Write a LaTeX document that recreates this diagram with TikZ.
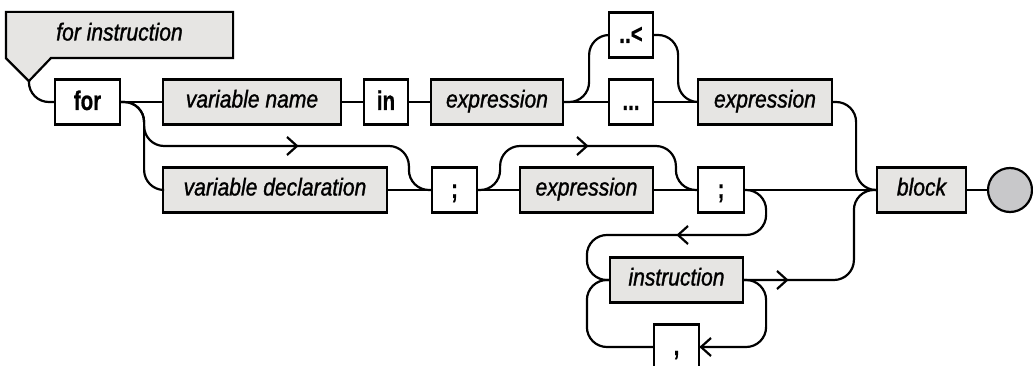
\documentclass[tikz,border=0pt]{standalone}
\usepackage{fontspec}
\setmainfont{Liberation Sans}
\newfontfamily\ntfont[FakeStretch=0.86, FakeBold=1.2]{Liberation Sans}
\newfontfamily\kwfont[FakeStretch=0.76, FakeBold=0.6]{Liberation Sans}
\usetikzlibrary{backgrounds}

\definecolor{ntfill}{HTML}{E6E5E3}
\definecolor{endfill}{HTML}{C8C8CA}

\begin{document}
\begin{tikzpicture}[x=1pt,y=-1pt,
  line width=2.2pt,
  box/.style={draw, minimum height=45pt, inner sep=0pt, anchor=center},
  ntlabel/.style={font=\ntfont\fontsize{24.5}{28}\selectfont\itshape,
    text height=17pt, text depth=6pt},
  nonterm/.style={box, fill=ntfill, ntlabel},
  term/.style={box, fill=white, font=\kwfont\fontsize{27}{30}\selectfont\bfseries,
    text height=19pt, text depth=3pt, minimum width=45pt},
  endnode/.style={circle, draw, fill=endfill, minimum size=44pt, inner sep=0pt},
  wire/.style={rounded corners=20pt},
  chevR/.pic={\draw[line width=2.2pt] (-10,-9) -- (0,0) -- (-10,9);},
  chevL/.pic={\draw[line width=2.2pt] (10,-9) -- (0,0) -- (10,9);},
]
\useasboundingbox (0,0) rectangle (1033,366);
\clip (0,0) rectangle (1033,366);

% rule name banner
\node[ntlabel, minimum width=225pt, minimum height=44pt, inner sep=0pt]
      (title) at (119.5,35) {for instruction};
\coordinate (tip) at ([shift={(23,23)}]title.south west);
\begin{scope}[on background layer]
  \filldraw[fill=ntfill, line width=2.2pt, line join=miter]
    (title.north west) -- (title.north east) -- (title.south east)
    -- ([xshift=45pt]title.south west) -- (tip) -- (title.south west) -- cycle;
\end{scope}

% rails for the bypass and loop-back lines
\coordinate (railA) at (0,146);
\coordinate (railB) at (0,235);

% top row
\node[term, minimum width=65pt] (for) at (87.5,102) {for};
\node[nonterm, minimum width=178pt] (varname) at (252,102) {variable name};
\node[term, minimum width=44pt] (in) at (386,102) {in};
\node[nonterm, minimum width=132pt] (expr1) at (497,102) {expression};
\node[term, minimum width=44pt] (dotlt) at (631,35) {..<};
\node[term, minimum width=44pt] (dots) at (631,102) {...};
\node[nonterm, minimum width=134pt] (expr2) at (765,102) {expression};

% middle row
\node[nonterm, minimum width=224pt] (vardecl) at (275,190) {variable declaration};
\node[term, minimum width=45pt] (semi1) at (454.5,190) {;};
\node[nonterm, minimum width=133pt] (expr3) at (586.5,190) {expression};
\node[term, minimum width=46pt] (semi2) at (721,190) {;};
\node[nonterm, minimum width=89pt] (block) at (921.5,190) {block};
\node[endnode] (stop) at (1010,190) {};

% increment part
\node[nonterm, minimum width=133pt] (instr) at (676.5,280) {instruction};
\node[term, minimum width=45pt] (comma) at (676.5,347) {,};

% connectors
\draw[wire] (tip) |- (for.west);
\draw (for.east) -- (varname.west);
\draw (varname.east) -- (in.west);
\draw (in.east) -- (expr1.west);
\draw (expr1.east) -- (dots.west);
\draw[wire] (expr1.east) -- ++(25,0) |- (dotlt.west);
\draw (dots.east) -- (expr2.west);
\draw[wire] (dotlt.east) -- ++(24,0) |- (expr2.west);
\draw[wire] (expr2.east) -- ++(23,0) |- (block.west);

\draw[wire] (for.east) -- ++(23,0) |- (vardecl.west);
\draw[wire] (for.east) -- ++(23,0) |- ([xshift=-22pt]semi1.west |- railA) |- (semi1.west);
\draw (vardecl.east) -- (semi1.west);
\draw (semi1.east) -- (expr3.west);
\draw[wire] (semi1.east) -- ++(22,0) |- ([xshift=-21pt]semi2.west |- railA) |- (semi2.west);
\draw (expr3.east) -- (semi2.west);
\draw (semi2.east) -- (block.west);
\draw (block.east) -- (stop.west);

\draw[wire] (semi2.east) -- ++(21,0) |- ([xshift=-22pt]instr.west |- railB) |- (instr.west);
\draw[wire] (instr.east) -| ([xshift=-22pt]block.west) -- (block.west);
\draw[wire] (instr.west) -- ++(-22,0) |- (comma.west);
\draw[wire] (instr.east) -- ++(22,0) |- (comma.east);

% direction marks
\pic at (297,146) {chevR};
\pic at (587,146) {chevR};
\pic at (678,235) {chevL};
\pic at (787,280) {chevR};
\pic at (701,347) {chevL};
\end{tikzpicture}
\end{document}
